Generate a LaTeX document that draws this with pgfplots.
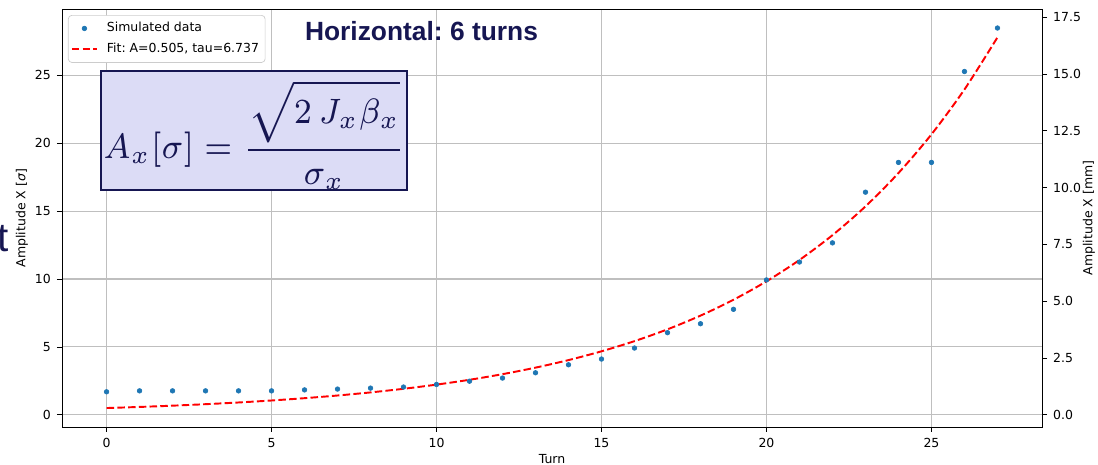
\documentclass[border=0pt]{standalone}
\usepackage[no-math]{fontspec}
\usepackage{graphicx}
\usepackage{pgfplots}
\pgfplotsset{compat=1.18}
\setmainfont{DejaVu Sans}
\newfontfamily\titlefont{Liberation Sans}
\definecolor{mplblue}{HTML}{1F77B4}
\definecolor{navy}{RGB}{22,22,82}
\definecolor{lav}{RGB}{220,220,246}
\newcommand\fs{\fontsize{7.1}{8.6}\selectfont}
\frenchspacing
\begin{document}
\begin{tikzpicture}[font=\fs]
\useasboundingbox (-1.24cm,-0.76cm) rectangle (20.72cm,8.54cm);
\begin{axis}[
  at={(0,0)}, anchor=south west,
  scale only axis, width=19.6cm, height=8.36cm,
  xmin=-1.35, xmax=28.35, ymin=-0.89, ymax=29.87,
  xtick={0,5,10,15,20,25}, ytick={0,5,10,15,20,25},
  tick pos=left, tick align=outside,
  major tick length=1mm,
  tick style={black, line width=0.5pt},
  grid=major, grid style={color=black!25, line width=0.6pt},
  axis line style={line width=0.5pt},
  /pgf/number format/assume math mode=true,
  ticklabel style={font=\fs},
  label style={font=\fs},
  xlabel={Turn}, ylabel={Amplitude X [\textit{σ}]},
  xlabel style={at={(axis description cs:0.5,-0.0766)}, anchor=center},
  ylabel style={at={(axis description cs:-0.0408,0.5)}, anchor=center},
  legend cell align=left,
  legend style={at={(rel axis cs:0.0061,0.9856)}, anchor=north west,
    draw=black!20, rounded corners=2pt, fill=white, font=\fs,
    inner xsep=1.5pt, inner ysep=2pt, row sep=1pt,
    /tikz/every odd column/.append style={column sep=1.1mm}},
]
\addplot[only marks, mark=*, mark size=1.3pt, color=mplblue,
  legend image code/.code={\fill[mplblue] (0.25cm,0cm) circle (1.3pt);}]
  coordinates {(0,1.70)(1,1.77)(2,1.77)(3,1.77)(4,1.77)(5,1.77)(6,1.84)(7,1.90)(8,1.97)(9,2.05)(10,2.24)(11,2.48)(12,2.71)(13,3.10)(14,3.69)(15,4.11)(16,4.92)(17,6.05)(18,6.71)(19,7.77)(20,9.93)(21,11.25)(22,12.66)(23,16.39)(24,18.58)(25,18.58)(26,25.27)(27,28.47)};
\addlegendentry{Simulated data}
\addplot[red, line width=1.1pt, dash pattern=on 1.5mm off 0.65mm, smooth, no marks,
  legend image code/.code={\draw[red, line width=1.1pt, dash pattern=on 1.5mm off 0.65mm] (0cm,0cm) -- (0.5cm,0cm);}]
  coordinates {(0,0.505)(1,0.5858)(2,0.6795)(3,0.7883)(4,0.9144)(5,1.0607)(6,1.2304)(7,1.4273)(8,1.6557)(9,1.9207)(10,2.2280)(11,2.5845)(12,2.9980)(13,3.4778)(14,4.0342)(15,4.6798)(16,5.4286)(17,6.2972)(18,7.3049)(19,8.4737)(20,9.8296)(21,11.4025)(22,13.2270)(23,15.3435)(24,17.7986)(25,20.6466)(26,23.9503)(27,27.7826)};
\addlegendentry{Fit: A=0.505, tau=6.737}
\end{axis}
\begin{axis}[
  at={(0,0)}, anchor=south west,
  scale only axis, width=19.6cm, height=8.36cm,
  xmin=-1.35, xmax=28.35, ymin=-0.532, ymax=17.865,
  axis x line=none, axis y line*=right,
  ytick={0,2.5,5,7.5,10,12.5,15,17.5},
  tick align=outside, major tick length=1mm,
  tick style={black, line width=0.5pt},
  axis line style={line width=0.5pt},
  /pgf/number format/assume math mode=true,
  yticklabel style={font=\fs, /pgf/number format/.cd, fixed, fixed zerofill, precision=1},
  label style={font=\fs},
  ylabel={Amplitude X [mm]},
  ylabel style={at={(axis description cs:1.048,0.5)}, anchor=center},
]
\addplot[draw=none] coordinates {(0,0)};
\end{axis}
\fill[lav] (0.78cm,4.74cm) rectangle (6.9cm,7.12cm);
\draw[navy, line width=0.3mm] (0.78cm,4.74cm) rectangle (6.9cm,7.12cm);
\node[navy, inner sep=0pt, anchor=center] at (3.848cm,5.84cm)
  {\resizebox*{6.04cm}{2.2cm}{$\displaystyle A_x[\sigma]=\frac{\sqrt{2\,J_x\beta_x}}{\sigma_x}$}};
\node[navy, inner sep=0pt, anchor=center, font=\titlefont\fontsize{15}{18}\bfseries\selectfont] at (7.19cm,7.92cm) {Horizontal: 6 turns};
\node[navy, inner sep=0pt, anchor=base east, font=\titlefont\fontsize{23}{26}\selectfont] at (-1.06cm,3.5cm) {t};
\end{tikzpicture}
\end{document}
